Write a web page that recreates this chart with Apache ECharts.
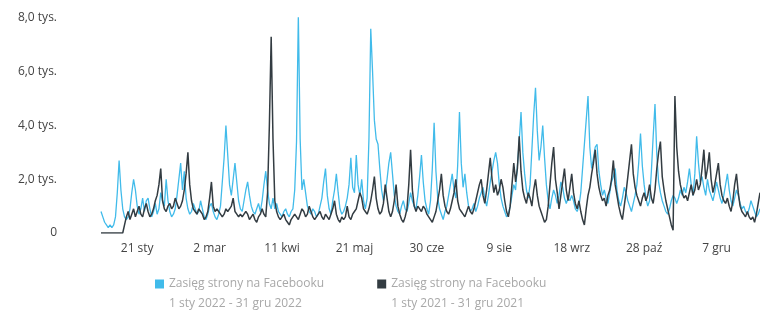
<!DOCTYPE html>
<html lang="pl">

<head>
  <meta charset="UTF-8">
  <title>Zasięg strony na Facebooku</title>
  <script src="https://cdn.jsdelivr.net/npm/echarts@6/dist/echarts.min.js"></script>
</head>

<body style="margin: 0;">
  <div id="chart" style="width: 760px;height: 313px;"></div>
  <script>
    const myChart = echarts.init(document.getElementById('chart'))

    // dzienny zasięg w tysiącach
    const reach2022 = [
      0.8, 0.6, 0.4, 0.3, 0.2, 0.3, 0.2, 0.3, 0.6, 1.5, 2.7, 1.6, 0.9, 0.6, 0.5, 0.6, 0.9, 1.5, 2.0, 1.6,
      1.0, 0.7, 0.9, 1.3, 0.8, 1.2, 1.3, 0.9, 0.6, 0.8, 1.1, 0.7, 0.9, 1.5, 1.2, 1.0, 2.0, 1.2, 0.8, 0.6,
      0.7, 0.9, 1.4, 2.0, 2.6, 1.6, 2.3, 1.3, 0.9, 0.7, 0.8, 1.1, 0.9, 0.7, 0.8, 1.2, 0.9, 0.6, 0.5, 0.7,
      1.0, 1.1, 0.8, 0.6, 0.5, 0.7, 1.0, 1.9, 2.8, 4.0, 2.9, 1.8, 1.4, 2.0, 2.6, 1.9, 1.2, 0.9, 0.8, 1.2,
      1.6, 1.9, 1.4, 1.0, 0.8, 0.7, 0.9, 1.1, 0.8, 1.2, 1.8, 2.3, 1.6, 1.1, 0.9, 1.3, 0.9, 1.1, 0.8, 0.7,
      0.6, 0.8, 0.9, 0.7, 0.6, 0.8, 0.9, 1.6, 3.4, 8.1, 3.5, 1.6, 2.0, 1.5, 1.0, 0.8, 0.7, 0.9, 0.8, 0.6,
      0.7, 1.0, 1.3, 1.9, 2.4, 1.4, 0.9, 0.7, 1.2, 1.6, 2.2, 1.5, 0.9, 0.7, 0.8, 1.0, 1.3, 1.8, 2.8, 1.7,
      1.5, 2.9, 1.8, 1.4, 2.0, 1.2, 0.9, 1.3, 3.5, 7.6, 6.0, 4.2, 3.5, 3.3, 2.4, 1.6, 1.2, 1.5, 2.0, 2.6,
      3.0, 2.2, 1.4, 1.0, 0.8, 0.7, 1.0, 1.2, 0.9, 0.8, 1.1, 1.5, 1.2, 1.0, 0.9, 1.4, 2.1, 2.9, 1.9, 1.2,
      0.9, 0.7, 1.2, 2.4, 4.1, 2.3, 1.3, 0.9, 0.7, 0.5, 0.8, 1.0, 1.4, 1.8, 2.2, 1.6, 1.3, 2.5, 4.5, 2.6,
      1.7, 2.2, 1.5, 1.0, 0.8, 0.9, 1.1, 0.8, 1.0, 1.3, 1.5, 1.7, 1.3, 1.0, 1.4, 1.9, 2.3, 2.7, 3.0, 2.6,
      1.8, 1.3, 1.0, 0.8, 0.6, 0.7, 1.0, 1.4, 1.8, 1.6, 2.5, 3.4, 4.5, 3.0, 2.2, 1.6, 1.3, 1.8, 3.1, 4.4,
      5.4, 3.8, 2.7, 3.2, 4.0, 2.8, 1.8, 1.2, 0.9, 1.3, 1.6, 1.4, 1.1, 1.4, 1.9, 1.7, 1.3, 1.1, 1.3, 1.2,
      1.4, 1.2, 0.9, 0.8, 1.0, 1.5, 2.4, 3.3, 4.2, 5.1, 3.2, 2.4, 2.8, 3.2, 3.3, 2.3, 1.8, 1.4, 1.6, 1.3,
      1.1, 1.5, 1.9, 2.1, 2.4, 1.6, 1.2, 1.0, 1.3, 1.7, 1.5, 1.2, 1.0, 0.8, 1.1, 1.4, 1.8, 2.6, 3.7, 2.5,
      1.8, 1.3, 1.0, 1.2, 2.3, 3.6, 4.8, 2.9, 1.9, 1.5, 1.2, 1.0, 0.8, 0.7, 0.9, 1.2, 1.4, 1.3, 1.1, 1.3,
      1.6, 1.4, 1.7, 1.5, 1.9, 2.4, 1.8, 1.4, 2.2, 3.6, 2.6, 1.9, 2.1, 1.7, 1.4, 2.0, 1.6, 1.4, 1.2, 1.5,
      1.9, 1.6, 1.3, 1.1, 1.4, 1.8, 2.2, 1.6, 1.2, 1.0, 1.3, 1.6, 1.4, 1.1, 0.9, 1.0, 0.8, 0.7, 0.9, 1.2,
      1.0, 0.8, 0.6, 0.7, 0.9
    ]
    const reach2021 = [
      0, 0, 0, 0, 0, 0, 0, 0, 0, 0, 0, 0, 0, 0.3, 0.6, 0.8, 0.5, 0.7, 0.9, 0.6,
      0.8, 1.0, 0.7, 0.6, 0.9, 1.1, 0.8, 0.6, 0.7, 0.9, 1.2, 1.4, 1.8, 2.4, 1.2, 0.9, 0.8, 1.0, 1.1, 0.9,
      1.0, 1.3, 1.1, 0.9, 1.0, 1.2, 1.6, 2.2, 3.0, 1.8, 1.2, 0.9, 0.8, 0.7, 0.9, 0.8, 0.7, 0.5, 0.6, 0.8,
      1.3, 1.9, 1.0, 0.8, 0.9, 0.8, 0.7, 0.6, 0.7, 0.9, 0.8, 0.9, 1.0, 1.3, 0.8, 0.7, 0.6, 0.7, 0.6, 0.7,
      0.8, 0.7, 0.5, 0.6, 0.7, 0.5, 0.4, 0.6, 0.7, 0.9, 0.7, 0.6, 1.5, 4.0, 7.3, 3.5, 1.2, 0.8, 0.6, 0.5,
      0.6, 0.7, 0.5, 0.4, 0.3, 0.5, 0.6, 0.7, 0.6, 0.5, 0.7, 0.9, 0.8, 0.6, 0.7, 1.0, 0.8, 0.6, 0.5, 0.6,
      0.7, 0.8, 0.6, 0.5, 0.7, 0.6, 0.5, 0.7, 0.9, 1.2, 0.7, 0.5, 0.4, 0.6, 0.5, 0.6, 1.0, 0.6, 0.5, 0.7,
      0.8, 0.9, 1.2, 1.5, 1.3, 0.9, 0.8, 0.7, 0.9, 1.2, 1.6, 2.1, 1.3, 0.9, 0.7, 0.8, 1.1, 1.8, 1.3, 0.8,
      0.6, 0.8, 1.2, 1.8, 1.0, 0.7, 0.5, 0.4, 0.6, 0.9, 1.8, 3.1, 1.6, 1.0, 0.8, 1.0, 0.9, 0.8, 1.0, 0.9,
      0.7, 0.6, 0.5, 0.4, 0.6, 0.8, 1.2, 1.6, 2.2, 1.4, 1.0, 0.8, 0.7, 0.9, 1.2, 1.5, 2.0, 1.2, 0.9, 0.8,
      0.7, 0.6, 0.8, 1.0, 0.8, 0.7, 0.9, 1.2, 1.5, 1.8, 2.0, 1.4, 1.1, 1.6, 2.2, 2.8, 2.0, 1.5, 1.8, 1.4,
      1.6, 2.0, 1.7, 1.2, 0.8, 0.6, 1.0, 1.8, 2.6, 1.9, 2.4, 3.6, 2.3, 1.6, 1.3, 1.1, 1.5, 1.3, 1.0, 1.6,
      2.0, 1.4, 1.0, 0.8, 0.6, 0.4, 0.5, 1.0, 1.8, 2.6, 3.2, 2.0, 1.5, 0.9, 1.4, 1.9, 2.4, 1.6, 1.2, 1.7,
      2.2, 1.5, 1.1, 0.9, 1.2, 0.8, 0.5, 0.3, 0.9, 1.4, 1.7, 2.2, 2.6, 3.1, 2.2, 1.7, 1.4, 1.2, 1.3, 1.0,
      1.4, 1.6, 2.0, 2.7, 1.8, 1.4, 1.0, 0.7, 0.5, 1.0, 1.5, 2.1, 2.7, 3.3, 2.2, 1.7, 1.4, 1.2, 1.0, 1.3,
      1.5, 1.2, 1.4, 1.8, 1.3, 1.1, 1.6, 2.4, 3.0, 3.4, 2.1, 1.6, 1.2, 0.9, 0.6, 0.3, 0.1, 5.1, 3.2, 2.3,
      1.8, 1.5, 1.3, 1.4, 1.2, 1.5, 1.8, 1.4, 1.6, 2.0, 1.6, 1.8, 2.4, 3.1, 2.0, 2.4, 3.0, 2.0, 1.5, 1.8,
      2.2, 2.6, 1.8, 1.4, 1.2, 1.1, 1.3, 1.0, 0.8, 1.2, 1.8, 2.2, 1.5, 1.0, 0.8, 0.7, 0.6, 0.8, 0.6, 0.5,
      0.6, 0.4, 0.7, 1.1, 1.5
    ]

    const monthNames = ['sty', 'lut', 'mar', 'kwi', 'maj', 'cze', 'lip', 'sie', 'wrz', 'paź', 'lis', 'gru']
    const monthDays = [31, 28, 31, 30, 31, 30, 31, 31, 30, 31, 30, 31]
    const yTicks = [0, 2, 4, 6, 8]
    const seriesNames = [
      'Zasięg strony na Facebooku\n1 sty 2022 - 31 gru 2022',
      'Zasięg strony na Facebooku\n1 sty 2021 - 31 gru 2021'
    ]

    // etykiety dni: "21 sty", "2 mar" ...
    const days = []
    monthDays.forEach((n, m) => {
      for (let d = 1; d <= n; d++) days.push(d + ' ' + monthNames[m])
    })

    const option = {
      animation: false,
      grid: { left: 101, right: 0, top: 18, bottom: 80 },
      legend: {
        left: 150,
        top: 249,
        itemWidth: 9,
        itemHeight: 9,
        itemGap: 53,
        icon: 'rect',
        formatter: name => '\n' + name,
        textStyle: {
          color: '#a8a8a8',
          fontFamily: 'Open Sans',
          fontSize: 12,
          lineHeight: 20
        }
      },
      xAxis: {
        type: 'category',
        data: days,
        boundaryGap: false,
        axisLine: { show: false },
        axisTick: { show: false },
        axisLabel: {
          interval: idx => idx % 40 === 20,
          margin: 10,
          color: '#444',
          fontFamily: 'Open Sans',
          fontSize: 12
        }
      },
      yAxis: {
        type: 'value',
        min: yTicks[0],
        max: yTicks[yTicks.length - 1],
        interval: 2,
        splitLine: { show: false },
        axisLabel: {
          margin: 44,
          color: '#444',
          fontFamily: 'Open Sans',
          fontSize: 12,
          formatter: v => v === 0 ? '0' : v.toFixed(1).replace('.', ',') + ' tys.'
        }
      },
      series: [
        {
          type: 'line',
          name: seriesNames[0],
          data: reach2022,
          symbol: 'none',
          color: '#41bbea',
          lineStyle: { width: 1.3 }
        },
        {
          type: 'line',
          name: seriesNames[1],
          data: reach2021,
          symbol: 'none',
          color: '#333c42',
          lineStyle: { width: 1.5 }
        }
      ]
    }

    myChart.setOption(option)
  </script>
</body>

</html>
